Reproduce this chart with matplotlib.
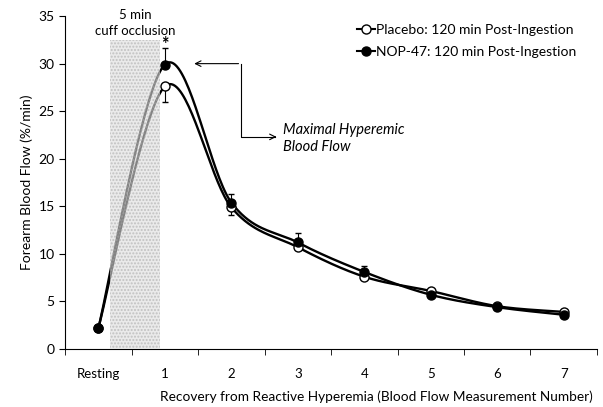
import numpy as np
import matplotlib
matplotlib.use('Agg')
import matplotlib.pyplot as plt

plt.rcParams['font.family'] = ['Lato', 'DejaVu Sans']

labels = ['Resting', '1', '2', '3', '4', '5', '6', '7']
placebo = [2.2, 27.6, 14.9, 10.7, 7.6, 6.1, 4.5, 3.9]
nop47 = [2.2, 29.9, 15.4, 11.2, 8.1, 5.7, 4.4, 3.6]
# error bars (only shown on one side, as in the original)
placebo_err_lo = [0, 1.6, 0.8, 0, 0, 0, 0, 0]
nop47_err_hi = [0, 1.7, 0.9, 1.0, 0.6, 0, 0, 0]


def smooth(y, n=40):
    # Catmull-Rom style smoothing like Excel's "smoothed line"
    x = np.arange(len(y), dtype=float)
    y = np.asarray(y, dtype=float)
    px = np.concatenate([[x[0]], x, [x[-1]]])
    py = np.concatenate([[y[0]], y, [y[-1]]])
    xs, ys = [], []
    for i in range(1, len(px) - 2):
        p0, p1, p2, p3 = [np.array([px[j], py[j]]) for j in (i - 1, i, i + 1, i + 2)]
        c1 = p1 + (p2 - p0) / 6
        c2 = p2 - (p3 - p1) / 6
        t = np.linspace(0, 1, n)[:, None]
        b = (1 - t) ** 3 * p1 + 3 * (1 - t) ** 2 * t * c1 + 3 * (1 - t) * t ** 2 * c2 + t ** 3 * p2
        xs.append(b[:, 0])
        ys.append(b[:, 1])
    return np.concatenate(xs), np.concatenate(ys)


fig = plt.figure(figsize=(6.03, 4.07), dpi=100)
ax = fig.add_axes([0.108, 0.1425, 0.882, 0.818])
x = np.arange(len(labels))

for vals in (placebo, nop47):
    sx, sy = smooth(vals)
    ax.plot(sx, sy, color='black', lw=1.7, zorder=2, solid_capstyle='round')

# cuff occlusion shading
ax.fill_between([0.18, 0.93], 0, 32.5, facecolor='#dcdcdc', edgecolor='#a8a8a8',
                hatch='.....', lw=0, alpha=0.6, zorder=3)

ax.errorbar(x, nop47, yerr=[np.zeros(len(x)), nop47_err_hi], fmt='none',
            ecolor='black', elinewidth=0.8, capsize=2.5, zorder=4)
ax.errorbar(x, placebo, yerr=[placebo_err_lo, np.zeros(len(x))], fmt='none',
            ecolor='black', elinewidth=0.8, capsize=2.5, zorder=4)

ax.plot(x, placebo, 'o', ms=6.5, mfc='white', mec='black', mew=1.0, zorder=5)
ax.plot(x, nop47, 'o', ms=6.5, mfc='black', mec='black', mew=1.0, zorder=6)

# legend handles
h1, = ax.plot([], [], '-o', color='black', lw=1.5, ms=6.5, mfc='white', mew=1.0)
h2, = ax.plot([], [], '-o', color='black', lw=1.5, ms=6.5, mfc='black', mew=1.0)
ax.legend([h1, h2], ['Placebo: 120 min Post-Ingestion', 'NOP-47: 120 min Post-Ingestion'],
          loc='upper right', bbox_to_anchor=(0.985, 1.015), frameon=False,
          handlelength=1.3, handletextpad=0.1, labelspacing=0.75, fontsize=10)

ax.set_xlim(-0.5, 7.5)
ax.set_ylim(0, 35)
ax.set_yticks(range(0, 36, 5))
ax.set_xticks(x)
ax.set_xticklabels(labels)
ax.set_xticks(np.arange(-0.5, 8, 1), minor=True)
ax.tick_params(axis='x', which='major', length=0, pad=14, labelsize=9.5)
ax.tick_params(axis='x', which='minor', length=4, direction='out')
ax.tick_params(axis='y', length=4, direction='out', labelsize=10)
ax.spines['top'].set_visible(False)
ax.spines['right'].set_visible(False)
ax.set_ylabel('Forearm Blood Flow (%/min)', fontsize=10)
ax.set_xlabel('Recovery from Reactive Hyperemia (Blood Flow Measurement Number)',
              fontsize=9.8)
ax.xaxis.set_label_coords(0.585, -0.125)

ax.text(0.55, 35.1, '5 min', ha='center', va='center', fontsize=9.5, clip_on=False)
ax.text(0.55, 33.4, 'cuff occlusion', ha='center', va='center', fontsize=9.5, clip_on=False)
ax.text(1.0, 32.0, '*', ha='center', va='center', fontsize=13, fontweight='bold')

# annotation with elbow arrow
ax.plot([2.15, 2.15, 2.65], [30.0, 22.3, 22.3], color='black', lw=0.8)
ax.annotate('', xy=(1.4, 30.0), xytext=(2.15, 30.0),
            arrowprops=dict(arrowstyle='->', color='black', lw=0.8))
ax.annotate('', xy=(2.72, 22.3), xytext=(2.6, 22.3),
            arrowprops=dict(arrowstyle='->', color='black', lw=0.8))
ax.text(2.78, 22.1, 'Maximal Hyperemic\nBlood Flow', ha='left', va='center',
        fontsize=10.5, style='italic', linespacing=1.25)

fig.savefig('out.png', dpi=100)
